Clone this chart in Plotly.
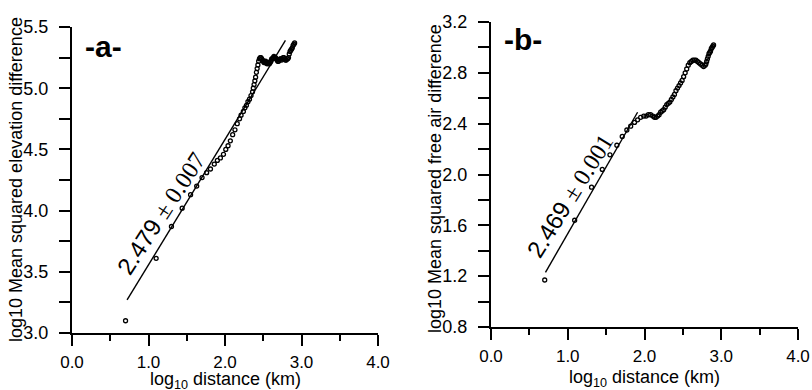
import plotly.graph_objects as go

# Panel a: log10 distance vs log10 mean squared elevation difference
a_x = [0.70, 1.10, 1.30, 1.44, 1.55, 1.63, 1.70, 1.76, 1.81, 1.86, 1.90, 1.94, 1.98,
       2.01, 2.04, 2.07, 2.10, 2.13, 2.16, 2.19, 2.21, 2.24, 2.26, 2.28, 2.30, 2.32,
       2.34, 2.36, 2.37, 2.38, 2.39, 2.40, 2.41, 2.42, 2.43, 2.44, 2.45, 2.46, 2.47,
       2.48, 2.49, 2.50, 2.51, 2.52, 2.53, 2.54, 2.55, 2.56, 2.57, 2.58, 2.59, 2.60,
       2.61, 2.62, 2.63, 2.64, 2.65, 2.66, 2.67, 2.68, 2.69, 2.70, 2.71, 2.72, 2.73,
       2.74, 2.75, 2.76, 2.77, 2.78, 2.79, 2.80, 2.81, 2.82, 2.83, 2.84, 2.85, 2.86,
       2.87, 2.88, 2.89, 2.90, 2.91]
a_y = [3.10, 3.61, 3.87, 4.02, 4.13, 4.20, 4.27, 4.31, 4.34, 4.38, 4.41, 4.43, 4.46,
       4.50, 4.53, 4.57, 4.62, 4.66, 4.71, 4.75, 4.78, 4.81, 4.84, 4.86, 4.89, 4.91,
       4.94, 4.97, 5.00, 5.03, 5.06, 5.09, 5.13, 5.16, 5.19, 5.22, 5.24, 5.25, 5.25,
       5.24, 5.23, 5.22, 5.21, 5.21, 5.22, 5.21, 5.20, 5.20, 5.21, 5.20, 5.21, 5.22,
       5.24, 5.24, 5.25, 5.26, 5.25, 5.25, 5.24, 5.23, 5.22, 5.22, 5.23, 5.24, 5.24,
       5.23, 5.24, 5.25, 5.25, 5.24, 5.23, 5.23, 5.24, 5.24, 5.25, 5.28, 5.30, 5.31,
       5.32, 5.33, 5.35, 5.36, 5.37]
a_fit_x = [0.72, 2.79]
a_fit_y = [3.27, 5.39]

# Panel b: log10 distance vs log10 mean squared free air difference
b_x = [0.70, 1.09, 1.31, 1.45, 1.55, 1.64, 1.71, 1.77, 1.82, 1.87, 1.91, 1.95, 1.99,
       2.02, 2.05, 2.08, 2.11, 2.13, 2.15, 2.17, 2.19, 2.21, 2.23, 2.25, 2.27, 2.29,
       2.31, 2.33, 2.35, 2.37, 2.39, 2.41, 2.43, 2.45, 2.47, 2.49, 2.51, 2.53, 2.55,
       2.57, 2.59, 2.61, 2.63, 2.65, 2.67, 2.69, 2.71, 2.73, 2.75, 2.77, 2.79, 2.80,
       2.81, 2.82, 2.83, 2.84, 2.85, 2.86, 2.87, 2.88, 2.89, 2.90]
b_y = [1.17, 1.64, 1.90, 2.04, 2.155, 2.23, 2.30, 2.35, 2.38, 2.41, 2.43, 2.45, 2.46,
       2.46, 2.47, 2.47, 2.46, 2.45, 2.45, 2.46, 2.47, 2.49, 2.50, 2.51, 2.53, 2.55,
       2.56, 2.57, 2.59, 2.61, 2.63, 2.66, 2.68, 2.70, 2.72, 2.74, 2.77, 2.80, 2.83,
       2.86, 2.88, 2.89, 2.90, 2.90, 2.90, 2.89, 2.88, 2.87, 2.86, 2.85, 2.86, 2.87,
       2.89, 2.91, 2.93, 2.95, 2.96, 2.97, 2.99, 3.00, 3.01, 3.02]
b_fit_x = [0.71, 1.91]
b_fit_y = [1.23, 2.49]

x_ticks = [0, 1, 2, 3, 4]
x_labels = ["0.0", "1.0", "2.0", "3.0", "4.0"]
a_ticks = [3.0, 3.5, 4.0, 4.5, 5.0, 5.5]
a_labels = ["3.0", "3.5", "4.0", "4.5", "5.0", "5.5"]
b_ticks = [0.8, 1.2, 1.6, 2.0, 2.4, 2.8, 3.2]
b_labels = ["0.8", "1.2", "1.6", "2.0", "2.4", "2.8", "3.2"]

FONT = "Liberation Sans, Arial, sans-serif"
W, H = 812, 390

fig = go.Figure()

marker = dict(symbol="circle-open", size=4, color="black", line=dict(width=1.3, color="black"))

fig.add_trace(go.Scatter(x=a_fit_x, y=a_fit_y, mode="lines", line=dict(color="black", width=1.4),
                         xaxis="x", yaxis="y", showlegend=False))
fig.add_trace(go.Scatter(x=a_x, y=a_y, mode="markers", marker=marker,
                         xaxis="x", yaxis="y", showlegend=False))
fig.add_trace(go.Scatter(x=b_fit_x, y=b_fit_y, mode="lines", line=dict(color="black", width=1.4),
                         xaxis="x2", yaxis="y2", showlegend=False))
fig.add_trace(go.Scatter(x=b_x, y=b_y, mode="markers", marker=marker,
                         xaxis="x2", yaxis="y2", showlegend=False))

def xaxis(domain, anchor):
    return dict(domain=domain, anchor=anchor, range=[0, 4], tickvals=x_ticks, ticktext=x_labels,
                ticks="outside", ticklen=11, tickwidth=2, tickcolor="black", ticklabelstandoff=2,
                minor=dict(dtick=0.5, tick0=0, ticks="outside", ticklen=6, tickwidth=2, tickcolor="black"),
                showline=True, linecolor="black", linewidth=2, showgrid=False, zeroline=False,
                tickfont=dict(family=FONT, size=17, color="black"), automargin=False)

def yaxis(domain, anchor, rng, tv, tt, minor_dtick, tick0):
    return dict(domain=domain, anchor=anchor, range=rng, tickvals=tv, ticktext=tt,
                ticks="outside", ticklen=11, tickwidth=2, tickcolor="black", ticklabelstandoff=7,
                minor=dict(dtick=minor_dtick, tick0=tick0, ticks="outside", ticklen=11, tickwidth=2,
                           tickcolor="black"),
                showline=True, linecolor="black", linewidth=2, showgrid=False, zeroline=False,
                tickfont=dict(family=FONT, size=18, color="black"), automargin=False)

fig.update_layout(
    width=W, height=H, margin=dict(l=0, r=0, t=0, b=0),
    paper_bgcolor="white", plot_bgcolor="white",
    xaxis=xaxis([72 / W, 378 / W], "y"),
    yaxis=yaxis([1 - 333 / H, 1 - 27 / H], "x", [3.0, 5.5], a_ticks, a_labels, 0.25, 3.0),
    xaxis2=xaxis([491 / W, 798 / W], "y2"),
    yaxis2=yaxis([1 - 327 / H, 1 - 22 / H], "x2", [0.8, 3.2], b_ticks, b_labels, 0.2, 0.8),
)

ann = []
# axis titles
ann.append(dict(text="log<sub>10</sub> distance (km)", x=225 / W, y=1 - 380 / H, xref="paper", yref="paper",
                showarrow=False, font=dict(family=FONT, size=18, color="black"),
                xanchor="center", yanchor="middle"))
ann.append(dict(text="log<sub>10</sub> distance (km)", x=644 / W, y=1 - 378 / H, xref="paper", yref="paper",
                showarrow=False, font=dict(family=FONT, size=18, color="black"),
                xanchor="center", yanchor="middle"))
ann.append(dict(text="log10 Mean squared elevation difference", x=16 / W, y=1 - 180 / H,
                xref="paper", yref="paper", showarrow=False, textangle=-90,
                font=dict(family=FONT, size=18, color="black"), xanchor="center", yanchor="middle"))
ann.append(dict(text="log10 Mean squared free air difference", x=435 / W, y=1 - 179 / H,
                xref="paper", yref="paper", showarrow=False, textangle=-90,
                font=dict(family=FONT, size=18, color="black"), xanchor="center", yanchor="middle"))
# panel labels
ann.append(dict(text="<b>-a-</b>", x=103 / W, y=1 - 46 / H, xref="paper", yref="paper", showarrow=False,
                font=dict(family=FONT, size=30, color="black"), xanchor="center", yanchor="middle"))
ann.append(dict(text="<b>-b-</b>", x=523 / W, y=1 - 40 / H, xref="paper", yref="paper", showarrow=False,
                font=dict(family=FONT, size=30, color="black"), xanchor="center", yanchor="middle"))
# slope labels
ann.append(dict(text="2.479 <span style=\"font-family:'Liberation Serif', 'Times New Roman', serif\">± 0.007</span>",
                x=1.16, y=3.978, xref="x", yref="y", showarrow=False, textangle=-57,
                font=dict(family=FONT, size=24, color="black"), xanchor="center", yanchor="middle"))
ann.append(dict(text="2.469 <span style=\"font-family:'Liberation Serif', 'Times New Roman', serif\">± 0.001</span>",
                x=1.03, y=1.834, xref="x2", yref="y2", showarrow=False, textangle=-58,
                font=dict(family=FONT, size=24, color="black"), xanchor="center", yanchor="middle"))
fig.update_layout(annotations=ann)

fig.write_html("out.html", config={"displayModeBar": False},
               post_script="document.body.style.margin='0';document.body.style.overflow='hidden';")
